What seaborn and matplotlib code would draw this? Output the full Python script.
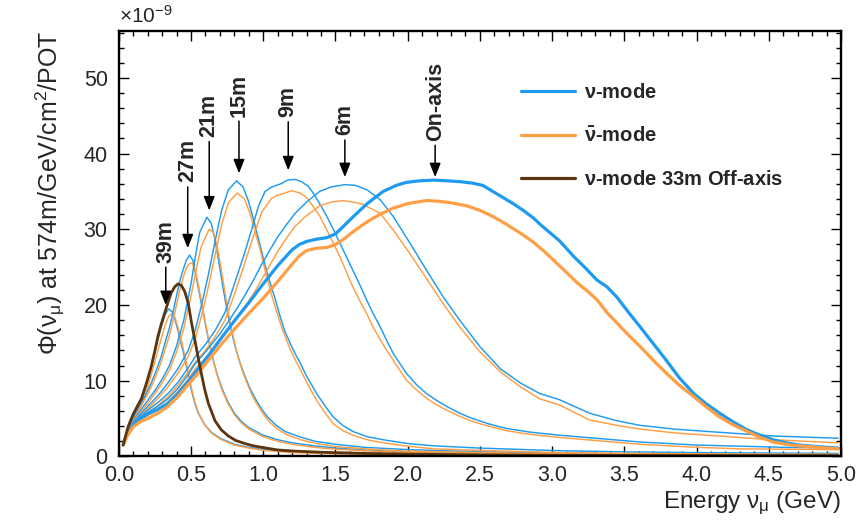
import numpy as np
import pandas as pd
import matplotlib
matplotlib.use("Agg")
import matplotlib.pyplot as plt
import seaborn as sns
from matplotlib.lines import Line2D
from matplotlib.ticker import MultipleLocator

# ---------------- data (units of 1e-9) ----------------
onaxis_nu_E = [0.03, 0.06, 0.1, 0.15, 0.2, 0.27, 0.34, 0.41, 0.48, 0.55, 0.62, 0.7, 0.8, 0.9, 1.0, 1.1, 1.2, 1.25, 1.3, 1.37,
               1.44, 1.5, 1.55, 1.63, 1.72, 1.83, 1.92, 1.99, 2.08, 2.18, 2.28, 2.36, 2.45, 2.52, 2.59, 2.66, 2.73, 2.8, 2.87,
               2.92, 3.05, 3.15, 3.23, 3.31, 3.38, 3.45, 3.53, 3.61, 3.7, 3.79, 3.88, 3.98, 4.07, 4.16, 4.25, 4.35, 4.44,
               4.53, 4.62, 4.71, 4.8, 4.9, 4.98]
onaxis_nu = [1.5, 2.9, 4.1, 5.0, 5.6, 6.2, 7.0, 8.3, 9.9, 11.6, 13.3, 15.4, 17.9, 20.3, 22.8, 25.2, 27.3, 28.0, 28.4, 28.7,
             28.9, 29.4, 30.3, 31.8, 33.4, 35.0, 35.8, 36.2, 36.4, 36.5, 36.4, 36.3, 36.1, 35.8, 35.0, 34.2, 33.4, 32.5, 31.5,
             30.6, 28.5, 26.4, 24.9, 23.3, 22.4, 21.0, 19.0, 17.1, 14.9, 12.7, 10.4, 8.3, 6.9, 5.7, 4.6, 3.5, 2.8,
             2.2, 1.8, 1.5, 1.35, 1.2, 1.1]

onaxis_nubar_E = [0.03, 0.06, 0.1, 0.15, 0.2, 0.27, 0.34, 0.41, 0.48, 0.55, 0.62, 0.7, 0.8, 0.9, 1.0, 1.1, 1.2, 1.25, 1.3,
                  1.37, 1.44, 1.5, 1.55, 1.63, 1.72, 1.81, 1.9, 2.0, 2.13, 2.22, 2.3, 2.41, 2.5, 2.59, 2.68, 2.78, 2.87,
                  2.95, 3.05, 3.17, 3.24, 3.31, 3.38, 3.45, 3.53, 3.61, 3.7, 3.79, 3.88, 3.98, 4.07, 4.16, 4.25, 4.35,
                  4.44, 4.53, 4.62, 4.71, 4.8, 4.9, 4.98]
onaxis_nubar = [1.5, 2.8, 3.9, 4.6, 5.0, 5.7, 6.6, 7.9, 9.5, 11.0, 12.7, 14.6, 16.8, 18.9, 20.9, 23.1, 25.4, 26.5, 27.2,
                27.5, 27.6, 28.0, 28.6, 29.8, 31.0, 32.0, 32.8, 33.4, 33.8, 33.7, 33.5, 33.1, 32.5, 31.7, 30.7, 29.5, 28.3,
                27.0, 25.2, 23.0, 21.9, 20.7, 19.0, 17.6, 16.0, 14.5, 12.7, 11.0, 9.4, 7.9, 6.5, 5.2, 4.2, 3.3,
                2.5, 1.9, 1.6, 1.4, 1.25, 1.1, 1.0]

m6_E = [0.03, 0.06, 0.1, 0.15, 0.2, 0.27, 0.34, 0.41, 0.48, 0.527, 0.6, 0.642, 0.7, 0.758, 0.82, 0.873, 0.93, 0.99, 1.05,
        1.1, 1.16, 1.22, 1.3, 1.39, 1.47, 1.565, 1.64, 1.72, 1.81, 1.9, 2.015, 2.13, 2.245, 2.36, 2.5, 2.64, 2.78, 2.915,
        3.05, 3.26, 3.45, 3.61, 3.85, 4.07, 4.3, 4.53, 4.75, 4.98]
m6_nu = [1.5, 3.0, 4.2, 5.1, 5.8, 6.6, 7.6, 9.0, 10.8, 12.2, 13.8, 14.8, 16.2, 17.8, 19.6, 21.3, 23.2, 25.4, 27.4,
         29.0, 30.6, 32.1, 33.6, 35.0, 35.6, 35.9, 35.8, 35.2, 33.9, 31.7, 28.2, 24.6, 21.1, 18.0, 14.5, 11.6, 9.7, 8.3,
         7.5, 5.7, 4.7, 4.1, 3.6, 3.3, 3.0, 2.7, 2.55, 2.4]
m6_nubar_E = [0.03, 0.06, 0.1, 0.15, 0.2, 0.27, 0.34, 0.41, 0.48, 0.527, 0.6, 0.642, 0.7, 0.758, 0.82, 0.873, 0.93, 0.99,
              1.05, 1.1, 1.16, 1.22, 1.3, 1.39, 1.47, 1.55, 1.62, 1.69, 1.81, 1.9, 2.015, 2.13, 2.245, 2.36, 2.5, 2.64,
              2.78, 2.915, 3.05, 3.26, 3.45, 3.61, 3.85, 4.07, 4.3, 4.53, 4.75, 4.98]
m6_nubar = [1.5, 2.9, 4.0, 4.8, 5.4, 6.2, 7.2, 8.6, 10.2, 11.5, 13.0, 14.0, 15.3, 16.8, 18.4, 19.8, 21.4, 23.4,
            25.4, 27.1, 28.8, 30.4, 31.8, 33.1, 33.6, 33.8, 33.6, 33.3, 32.1, 29.9, 26.8, 23.5, 20.2, 17.1, 13.8, 11.2,
            9.2, 7.6, 6.8, 4.8, 4.1, 3.6, 3.1, 2.8, 2.5, 2.2, 2.0, 1.8]

m9_E = [0.03, 0.06, 0.1, 0.15, 0.2, 0.27, 0.34, 0.41, 0.48, 0.527, 0.6, 0.666, 0.735, 0.804, 0.873, 0.92, 0.966, 1.012,
        1.06, 1.12, 1.17, 1.22, 1.265, 1.31, 1.346, 1.39, 1.44, 1.485, 1.53, 1.575, 1.62, 1.67, 1.715, 1.76, 1.81, 1.855,
        1.9, 1.99, 2.06, 2.13, 2.2, 2.27, 2.36, 2.45, 2.56, 2.68, 2.85, 3.05, 3.3, 3.61, 4.0, 4.3, 4.6, 4.98]
m9_nu = [1.5, 3.0, 4.3, 5.3, 6.1, 7.1, 8.3, 9.8, 11.7, 13.1, 14.8, 16.6, 19.0, 23.0, 27.0, 30.0, 33.0, 35.0,
         35.6, 36.0, 36.5, 36.6, 36.3, 35.7, 34.8, 33.4, 31.7, 30.0, 28.2, 26.4, 24.6, 22.6, 20.7, 18.9, 17.1, 15.3,
         13.6, 11.0, 9.5, 8.3, 7.4, 6.6, 5.7, 5.0, 4.3, 3.7, 3.2, 2.8, 2.4, 1.9, 1.5, 1.35, 1.2, 1.1]
m9_nubar_E = [0.03, 0.06, 0.1, 0.15, 0.2, 0.27, 0.34, 0.41, 0.48, 0.527, 0.6, 0.666, 0.735, 0.804, 0.873, 0.92, 0.99,
              1.058, 1.1, 1.15, 1.197, 1.254, 1.3, 1.346, 1.39, 1.44, 1.485, 1.53, 1.575, 1.62, 1.67, 1.715, 1.76, 1.81,
              1.855, 1.9, 1.99, 2.06, 2.13, 2.2, 2.27, 2.36, 2.45, 2.56, 2.68, 2.85, 3.05, 3.3, 3.61, 4.0, 4.3, 4.6, 4.98]
m9_nubar = [1.5, 2.9, 4.1, 5.0, 5.8, 6.7, 7.9, 9.4, 11.1, 12.4, 14.0, 15.8, 18.0, 21.6, 25.6, 28.4, 32.3,
            34.1, 34.5, 34.8, 35.1, 34.8, 34.2, 33.0, 31.8, 29.9, 28.2, 26.4, 24.4, 22.4, 20.5, 18.9, 17.1, 15.4,
            14.0, 12.7, 10.1, 8.8, 7.7, 6.8, 6.1, 5.3, 4.6, 4.0, 3.4, 2.9, 2.5, 2.1, 1.6, 1.2, 1.0, 0.95, 0.9]

m15_E = [0.03, 0.06, 0.1, 0.15, 0.2, 0.27, 0.34, 0.41, 0.48, 0.527, 0.573, 0.62, 0.666, 0.712, 0.758, 0.815, 0.86,
         0.896, 0.93, 0.966, 1.012, 1.045, 1.081, 1.115, 1.15, 1.185, 1.22, 1.254, 1.3, 1.37, 1.43, 1.485, 1.55, 1.62,
         1.72, 1.83, 2.0, 2.18, 2.5, 3.05, 3.5, 4.0, 4.5, 4.98]
m15_nu = [1.5, 3.1, 4.4, 5.6, 6.6, 8.0, 9.7, 11.6, 14.0, 16.5, 20.0, 24.0, 28.4, 32.5, 35.2, 36.4, 35.6,
          33.8, 31.5, 28.8, 25.3, 23.1, 20.9, 18.6, 16.5, 15.0, 13.6, 12.4, 10.6, 8.3, 6.6, 5.2, 4.1, 3.3,
          2.6, 2.2, 1.7, 1.4, 1.1, 0.75, 0.6, 0.5, 0.45, 0.4]
m15_nubar_E = [0.03, 0.06, 0.1, 0.15, 0.2, 0.27, 0.34, 0.41, 0.48, 0.527, 0.573, 0.62, 0.666, 0.712, 0.758, 0.82, 0.87,
               0.91, 0.945, 0.98, 1.02, 1.055, 1.09, 1.125, 1.16, 1.19, 1.22, 1.254, 1.3, 1.37, 1.43, 1.485, 1.55, 1.62,
               1.72, 1.83, 2.0, 2.18, 2.5, 3.05, 3.5, 4.0, 4.5, 4.98]
m15_nubar = [1.5, 3.0, 4.2, 5.3, 6.3, 7.6, 9.2, 11.0, 13.2, 15.4, 18.6, 22.4, 26.6, 30.6, 33.5, 34.8, 34.0,
             32.0, 29.6, 27.2, 24.0, 21.5, 19.3, 17.2, 15.4, 14.0, 12.8, 11.6, 9.8, 7.4, 5.7, 4.3, 3.4, 2.8,
             2.2, 1.8, 1.35, 1.0, 0.8, 0.5, 0.4, 0.35, 0.3, 0.3]

m21_E = [0.03, 0.06, 0.1, 0.15, 0.2, 0.25, 0.3, 0.35, 0.4, 0.45, 0.5, 0.53, 0.56, 0.61, 0.64, 0.666, 0.69, 0.712, 0.735,
         0.758, 0.78, 0.804, 0.84, 0.873, 0.91, 0.943, 0.99, 1.035, 1.09, 1.15, 1.25, 1.358, 1.5, 1.7, 2.0, 2.5, 3.0,
         3.5, 4.0, 4.5, 4.98]
m21_nu = [1.5, 3.2, 4.7, 6.1, 7.4, 8.7, 10.2, 12.0, 14.6, 18.0, 22.8, 26.4, 29.6, 31.6, 30.8, 28.6, 26.0, 23.4, 20.8,
          18.5, 16.5, 14.6, 12.3, 10.6, 8.9, 7.7, 6.2, 5.1, 4.1, 3.3, 2.6, 2.0, 1.6, 1.2, 0.9, 0.6, 0.45,
          0.35, 0.3, 0.25, 0.2]
m21_nubar_E = [0.03, 0.06, 0.1, 0.15, 0.2, 0.25, 0.3, 0.35, 0.4, 0.45, 0.5, 0.535, 0.57, 0.625, 0.655, 0.68, 0.703,
               0.725, 0.748, 0.77, 0.792, 0.815, 0.85, 0.883, 0.92, 0.953, 1.0, 1.045, 1.1, 1.16, 1.26, 1.368, 1.5, 1.7,
               2.0, 2.5, 3.0, 3.5, 4.0, 4.5, 4.98]
m21_nubar = [1.5, 3.1, 4.5, 5.8, 7.0, 8.3, 9.7, 11.4, 13.8, 16.9, 21.2, 24.6, 27.7, 30.0, 29.6, 27.8, 25.4, 22.8,
             20.2, 17.8, 15.8, 13.9, 11.6, 9.9, 8.2, 7.0, 5.6, 4.5, 3.6, 2.9, 2.2, 1.7, 1.3, 1.0, 0.7, 0.5, 0.35,
             0.3, 0.25, 0.2, 0.15]

m27_E = [0.03, 0.06, 0.087, 0.12, 0.156, 0.19, 0.225, 0.26, 0.294, 0.323, 0.352, 0.375, 0.398, 0.42, 0.444, 0.467,
         0.49, 0.513, 0.536, 0.565, 0.594, 0.62, 0.65, 0.68, 0.71, 0.75, 0.8, 0.85, 0.9, 1.0, 1.1, 1.2, 1.35, 1.5,
         1.75, 2.0, 2.5, 3.0, 3.5, 4.0, 4.5, 4.98]
m27_nu = [1.5, 3.4, 4.6, 5.8, 7.0, 8.3, 9.7, 11.4, 13.2, 15.2, 17.1, 19.0, 21.1, 23.0, 24.6, 25.9, 26.6, 25.9,
          23.7, 20.8, 18.0, 15.5, 13.0, 10.9, 9.2, 7.4, 5.7, 4.6, 3.8, 2.8, 2.2, 1.8, 1.4, 1.1, 0.8, 0.6, 0.45,
          0.35, 0.3, 0.25, 0.2, 0.15]
m27_nubar_E = [0.03, 0.06, 0.087, 0.12, 0.156, 0.19, 0.225, 0.26, 0.294, 0.323, 0.352, 0.375, 0.398, 0.42, 0.444,
               0.467, 0.49, 0.51, 0.536, 0.565, 0.594, 0.62, 0.65, 0.68, 0.71, 0.75, 0.8, 0.85, 0.9, 1.0, 1.1, 1.2,
               1.35, 1.5, 1.75, 2.0, 2.5, 3.0, 3.5, 4.0, 4.5, 4.98]
m27_nubar = [1.5, 3.3, 4.4, 5.5, 6.7, 7.9, 9.2, 10.8, 12.5, 14.3, 16.1, 17.9, 19.9, 21.8, 23.5, 24.9, 25.5, 25.5,
             24.0, 21.2, 18.2, 15.6, 13.0, 10.8, 9.0, 7.2, 5.5, 4.4, 3.6, 2.6, 2.0, 1.6, 1.2, 0.95, 0.7, 0.5, 0.35,
             0.3, 0.25, 0.2, 0.15, 0.1]

m39_E = [0.03, 0.064, 0.1, 0.133, 0.17, 0.202, 0.225, 0.248, 0.271, 0.294, 0.32, 0.345, 0.37, 0.39, 0.41, 0.433, 0.456,
         0.48, 0.502, 0.525, 0.548, 0.594, 0.64, 0.7, 0.8, 0.9, 1.0, 1.2, 1.5, 2.0, 2.5, 3.0, 4.0, 4.98]
m39_nu = [1.5, 3.9, 5.4, 6.6, 8.3, 10.1, 11.8, 13.6, 15.4, 17.1, 18.7, 19.5, 19.1, 18.0, 16.6, 14.8, 13.0, 10.8, 8.8,
          7.1, 5.8, 4.2, 3.2, 2.4, 1.6, 1.2, 0.9, 0.6, 0.4, 0.25, 0.2, 0.15, 0.1, 0.1]
m39_nubar = [1.5, 3.7, 5.1, 6.2, 7.7, 9.3, 10.8, 12.4, 14.0, 15.6, 17.3, 18.5, 18.9, 18.3, 17.0, 15.3, 13.4, 11.2,
             9.1, 7.3, 5.9, 4.2, 3.1, 2.3, 1.5, 1.1, 0.8, 0.5, 0.35, 0.2, 0.15, 0.1, 0.1, 0.1]

m33_E = [0.03, 0.064, 0.1, 0.133, 0.156, 0.19, 0.225, 0.25, 0.27, 0.294, 0.317, 0.34, 0.363, 0.387, 0.41, 0.433, 0.456,
         0.48, 0.502, 0.525, 0.548, 0.573, 0.594, 0.62, 0.666, 0.71, 0.758, 0.81, 0.873, 0.93, 0.99, 1.1, 1.22, 1.4,
         1.7, 2.0, 2.5, 3.0, 4.0, 4.98]
m33_nu = [1.5, 3.9, 5.6, 6.8, 7.6, 9.6, 11.9, 14.0, 15.8, 17.5, 18.9, 20.3, 21.6, 22.4, 22.8, 22.6, 21.8, 20.3, 17.8,
          15.5, 13.2, 10.8, 8.9, 7.0, 4.7, 3.5, 2.7, 2.1, 1.7, 1.4, 1.2, 0.85, 0.7, 0.55, 0.4, 0.3, 0.2, 0.15,
          0.1, 0.1]

peak_labels = ["39m", "27m", "21m", "15m", "9m", "6m", "On-axis"]
legend_labels = [r"$\mathbf{\nu}$-mode", r"$\mathbf{\bar{\nu}}$-mode", r"$\mathbf{\nu}$-mode 33m Off-axis"]
x_ticks = [0.0, 0.5, 1.0, 1.5, 2.0, 2.5, 3.0, 3.5, 4.0, 4.5, 5.0]
y_ticks = [0, 10, 20, 30, 40, 50]

# ---------------- style ----------------
sns.set_theme(style="ticks")
plt.rcParams["font.family"] = ["Liberation Sans", "DejaVu Sans"]
plt.rcParams["mathtext.fontset"] = "custom"
plt.rcParams["mathtext.rm"] = "Liberation Sans"
plt.rcParams["mathtext.it"] = "Liberation Sans"
plt.rcParams["mathtext.bf"] = "Liberation Sans:bold"
plt.rcParams["mathtext.sf"] = "Liberation Sans"

BLUE = "#1E9BF0"
ORANGE = "#FF9F45"
BROWN = "#5A3510"

fig = plt.figure(figsize=(8.56, 5.2), dpi=100)
ax = fig.add_axes([0.1388, 0.1223, 0.8437, 0.8181])

def draw(E, F, color, lw):
    df = pd.DataFrame({"E": E, "F": F})
    sns.lineplot(data=df, x="E", y="F", ax=ax, color=color, linewidth=lw,
                 sort=False, estimator=None, solid_joinstyle="round")

thin = 1.05
pairs = [
    (m39_E, m39_nu, m39_E, m39_nubar),
    (m27_E, m27_nu, m27_nubar_E, m27_nubar),
    (m21_E, m21_nu, m21_nubar_E, m21_nubar),
    (m15_E, m15_nu, m15_nubar_E, m15_nubar),
    (m9_E, m9_nu, m9_nubar_E, m9_nubar),
    (m6_E, m6_nu, m6_nubar_E, m6_nubar),
]
for Eb, Fb, Eo, Fo in pairs:
    draw(Eb, Fb, BLUE, thin)
    draw(Eo, Fo, ORANGE, thin)
draw(onaxis_nu_E, onaxis_nu, BLUE, 2.3)
draw(onaxis_nubar_E, onaxis_nubar, ORANGE, 2.3)
draw(m33_E, m33_nu, BROWN, 2.0)

ax.set_xlim(0, 5.0)
ax.set_ylim(0, 56.2)
ax.set_xticks(x_ticks)
ax.set_xticklabels([f"{t:.1f}" for t in x_ticks])
ax.set_yticks(y_ticks)
ax.xaxis.set_minor_locator(MultipleLocator(0.1))
ax.yaxis.set_minor_locator(MultipleLocator(2))
ax.tick_params(which="both", direction="in", top=True, right=True, width=1.0, color="black")
ax.tick_params(which="major", length=7.5, labelsize=15.5)
ax.tick_params(which="minor", length=3.8)
ax.tick_params(axis="x", which="major", pad=6)
ax.tick_params(axis="y", which="major", pad=8)
for s in ax.spines.values():
    s.set_linewidth(1.7)
    s.set_color("black")

ax.set_xlabel(r"Energy $\nu_{\mu}$ (GeV)", fontsize=17.5, loc="right", labelpad=3)
ax.set_ylabel(r"$\Phi(\nu_{\mu})$ at 574m/GeV/cm$^{2}$/POT", fontsize=18, loc="top", labelpad=12)
ax.text(0.0, 1.01, r"$\times10^{-9}$", transform=ax.transAxes, fontsize=15, ha="left", va="bottom")

# peak annotations: (energy, arrow tip, arrow tail)
ann_x = [0.325, 0.477, 0.626, 0.832, 1.173, 1.565, 2.19]
ann_tip = [20.0, 27.5, 32.5, 37.4, 37.8, 36.9, 36.9]
ann_tail = [25.0, 35.6, 41.6, 44.3, 44.2, 41.8, 41.1]
for lab, x, tip, tail in zip(peak_labels, ann_x, ann_tip, ann_tail):
    ax.annotate("", xy=(x, tip), xytext=(x, tail),
                arrowprops=dict(arrowstyle="-|>,head_length=0.7,head_width=0.28", color="black", lw=1.1,
                                shrinkA=0, shrinkB=0))
    ax.text(x, tail + 0.6, lab, rotation=90, ha="center", va="bottom", fontsize=15.5, fontweight="bold")

handles = [Line2D([], [], color=BLUE, lw=2.3), Line2D([], [], color=ORANGE, lw=2.3), Line2D([], [], color=BROWN, lw=2.3)]
ax.legend(handles, legend_labels, loc="upper left", bbox_to_anchor=(0.5565, 0.877), frameon=False,
          prop={"size": 14.5, "weight": "bold"}, handlelength=2.7, handletextpad=0.45, labelspacing=1.2,
          borderpad=0, borderaxespad=0)

fig.savefig("out.png", dpi=100)
